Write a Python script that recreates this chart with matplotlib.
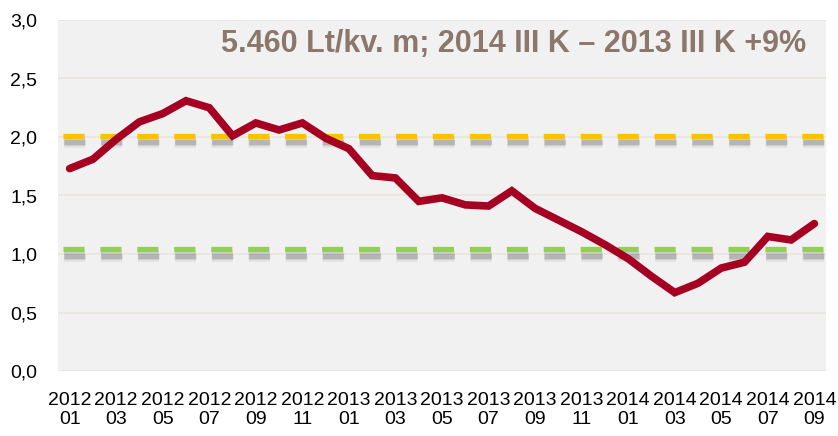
import numpy as np
import matplotlib.pyplot as plt
import matplotlib.patheffects as pe

# Duomenys: mėnesinė serija 2012 01 - 2014 09
menesiai = [f"{m}\n{mm:02d}" for m in (2012, 2013, 2014) for mm in range(1, 13)][:33]
reiksmes = [1.73, 1.81, 1.98, 2.13, 2.20, 2.31, 2.25, 2.01, 2.12, 2.06, 2.12, 1.99,
            1.90, 1.67, 1.65, 1.45, 1.48, 1.42, 1.41, 1.54, 1.39, 1.29, 1.19, 1.08,
            0.96, 0.81, 0.67, 0.75, 0.88, 0.93, 1.15, 1.12, 1.26]
riba_auksta = 2.01
riba_zema = 1.04
y_ticks = [0.0, 0.5, 1.0, 1.5, 2.0, 2.5, 3.0]
antraste = "5.460 Lt/kv. m; 2014 III K \u2013 2013 III K +9%"

plt.rcParams['font.family'] = ['Liberation Sans', 'DejaVu Sans']

fig = plt.figure(figsize=(8.38, 4.36), dpi=100)
ax = fig.add_axes([58 / 838, 65 / 436, 768 / 838, 351 / 436])
ax.set_facecolor("#F1F1F1")

x = np.arange(len(reiksmes))

# Horizontalios linijos
for yv in y_ticks:
    ax.axhline(yv, color="#E9E4E0", linewidth=1.2, zorder=1)

# Brūkšninės linijos su šešėliu (imituojamas suliejimas)
seselis = [pe.SimpleLineShadow(offset=(0.5, -4.5), shadow_color="#505050", alpha=0.08,
                               linewidth=8.5),
           pe.SimpleLineShadow(offset=(0.5, -4.5), shadow_color="#505050", alpha=0.12,
                               linewidth=6.0),
           pe.SimpleLineShadow(offset=(0.5, -4.5), shadow_color="#505050", alpha=0.22),
           pe.Normal()]
stilius = (6.06, (4.0, 3.0))
ax.axhline(riba_auksta, color="#FFC000", linewidth=3.8, linestyle=stilius,
           dash_capstyle="butt", path_effects=seselis, zorder=2)
ax.axhline(riba_zema, color="#92D050", linewidth=3.8, linestyle=stilius,
           dash_capstyle="butt", path_effects=seselis, zorder=2)

ax.plot(x, reiksmes, color="#A50021", linewidth=5.5, solid_capstyle="round",
        solid_joinstyle="miter", zorder=3)

ax.set_xlim(-0.5, len(reiksmes) - 0.5)
ax.set_ylim(0, 3.0)
ax.set_yticks(y_ticks)
ax.set_yticklabels([f"{v:.1f}".replace(".", ",") for v in y_ticks], fontsize=14)
ax.set_xticks(x[::2])
ax.set_xticklabels(menesiai[::2], fontsize=14, linespacing=1.15)
ax.tick_params(axis="both", length=0)
ax.tick_params(axis="y", pad=15)
ax.tick_params(axis="x", pad=15)
for s in ax.spines.values():
    s.set_visible(False)

ax.text(0.974, 0.932, antraste, transform=ax.transAxes, ha="right", va="center",
        fontsize=22, fontweight="bold", color="#8B776B",
        family=["Liberation Sans Narrow", "Liberation Sans", "DejaVu Sans"], zorder=4)

fig.savefig("out.png", dpi=100)
